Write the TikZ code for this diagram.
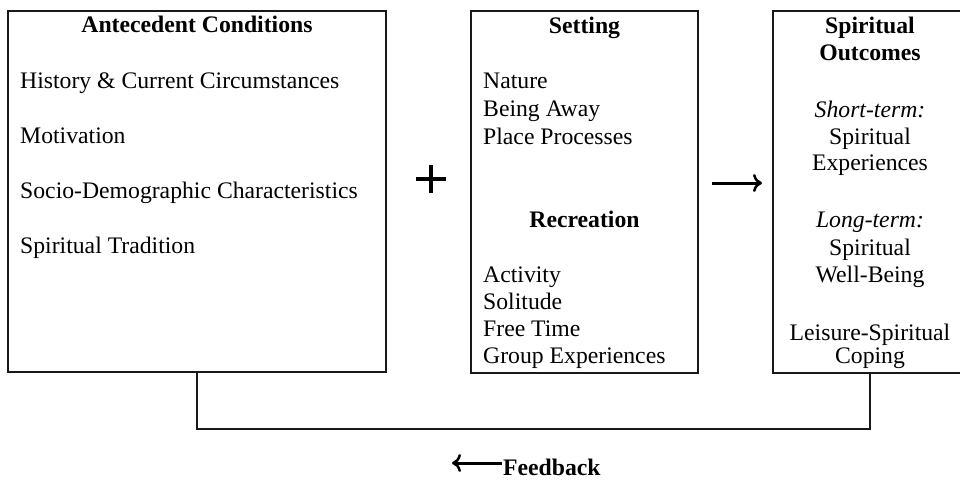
\documentclass[tikz,border=0pt]{standalone}
\usepackage{fontspec}
\setmainfont{Liberation Serif}
\usetikzlibrary{arrows.meta}
\begin{document}
\begin{tikzpicture}[x=1pt,y=-1pt,
  box/.style={draw=black!90, line width=2pt, fill=none, inner sep=0pt},
  txt/.style={anchor=base west, inner sep=0pt, font=\fontsize{23.7}{28}\selectfont, text=black},
  ctxt/.style={anchor=base, inner sep=0pt, font=\fontsize{23.7}{28}\selectfont, text=black},
  hd/.style={ctxt, font=\fontsize{23.7}{28}\selectfont\bfseries},
  conn/.style={draw=black!90, line width=2pt},
  tipline/.style={draw=black, line width=3pt, -{To[length=9pt,width=18pt,line width=2.5pt]}}]
\useasboundingbox (0,0) rectangle (960,479);
% boxes
\node[box, minimum width=378pt, minimum height=361pt] (ac) at (197,191.5) {};
\node[box, minimum width=227pt, minimum height=362pt] (st) at (584.5,192) {};
\node[box, minimum width=194pt, minimum height=362pt] (so) at (870,192) {};
% box 1 text
\node[hd] (ach) at (197,32) {Antecedent Conditions};
\node[txt] (a1) at (20,88) {History \& Current Circumstances};
\node[txt] (a2) at (20,143) {Motivation};
\node[txt] (a3) at (20,198) {Socio-Demographic Characteristics};
\node[txt] (a4) at (20,253) {Spiritual Tradition};
% box 2 text
\node[hd] (sth) at (584.5,33) {Setting};
\node[txt] (s1) at (483,88) {Nature};
\node[txt] (s2) at (483,116) {Being Away};
\node[txt] (s3) at (483,144) {Place Processes};
\node[hd] (rch) at (584.5,227) {Recreation};
\node[txt] (r1) at (483,282) {Activity};
\node[txt] (r2) at (483,309) {Solitude};
\node[txt] (r3) at (483,336) {Free Time};
\node[txt] (r4) at (483,363) {Group Experiences};
% box 3 text
\node[hd] (soh1) at (870,33) {Spiritual};
\node[hd] (soh2) at (870,60) {Outcomes};
\node[ctxt] (o1) at (870,117) {\itshape Short-term:};
\node[ctxt] (o2) at (870,144) {Spiritual};
\node[ctxt] (o3) at (870,170) {Experiences};
\node[ctxt] (o4) at (870,227) {\itshape Long-term:};
\node[ctxt] (o5) at (870,255) {Spiritual};
\node[ctxt] (o6) at (870,282) {Well-Being};
\node[ctxt] (o7) at (870,340) {Leisure-Spiritual};
\node[ctxt] (o8) at (870,363) {Coping};
% plus sign
\coordinate (plus) at (431,179);
\draw[line width=3.5pt, black] ([xshift=-15pt]plus) -- ([xshift=15pt]plus)
  ([yshift=-14pt]plus) -- ([yshift=14pt]plus);
% arrow between setting and outcomes
\coordinate (arA) at (712,183);
\coordinate (arB) at (762,183);
\draw[tipline] (arA) -- (arB);
% feedback loop
\draw[conn] (ac.south) -- ++(0,56) -| (so.south);
% feedback label
\node[hd, anchor=base west] (fb) at (503,475) {Feedback};
\coordinate (fbend) at (452,463);
\draw[tipline] ([xshift=-1pt]fb.west |- fbend) -- (fbend);
\end{tikzpicture}
\end{document}
